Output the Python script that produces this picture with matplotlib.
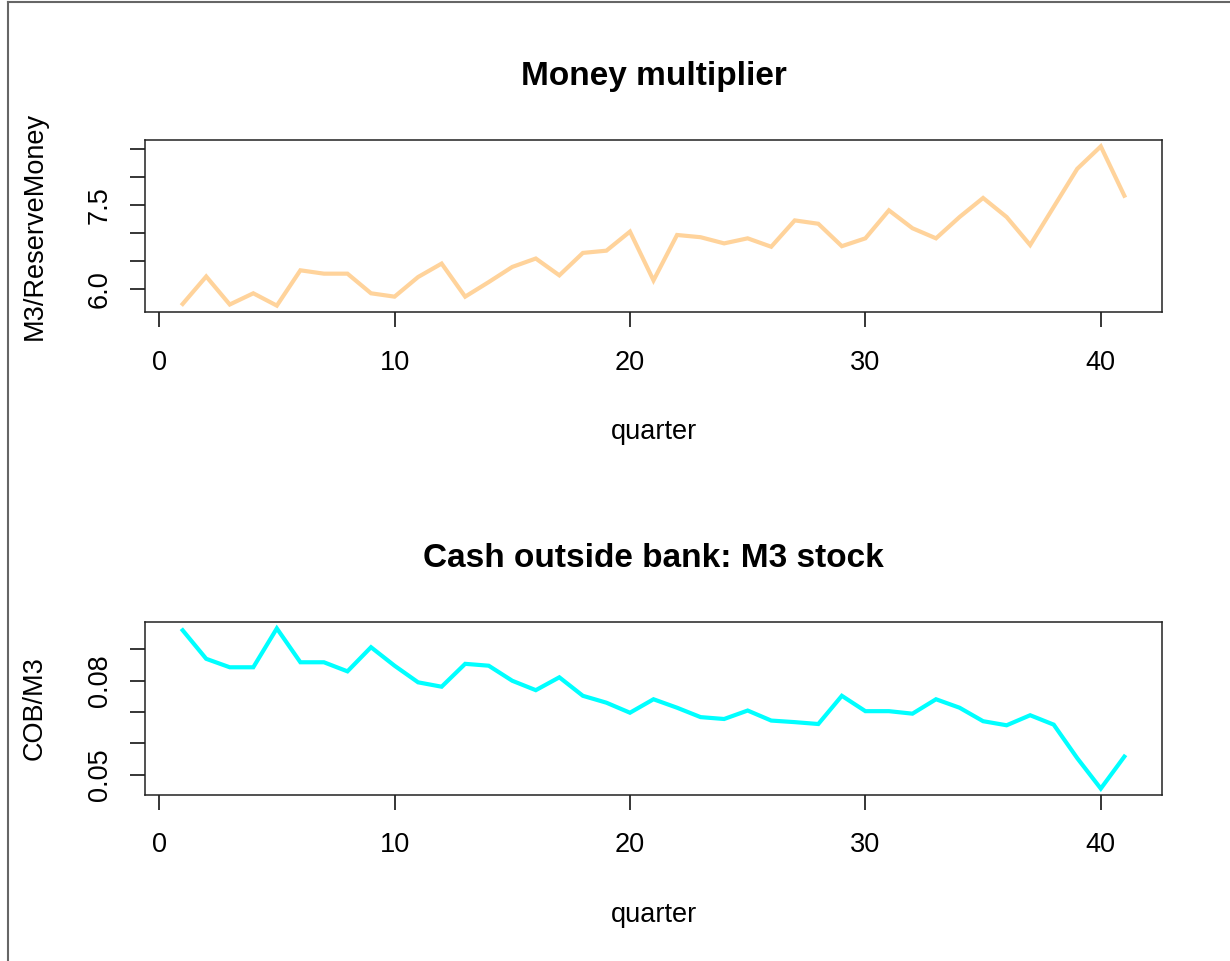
import matplotlib
matplotlib.use('Agg')
import matplotlib.pyplot as plt
from matplotlib.lines import Line2D

plt.rcParams['font.family'] = ['Liberation Sans', 'DejaVu Sans']

# quarters 1..41
quarter = list(range(1, 42))

# money multiplier (M3 / reserve money)
multiplier = [5.73, 6.22, 5.72, 5.92, 5.70, 6.33, 6.27, 6.27, 5.92, 5.86,
              6.21, 6.45, 5.86, 6.12, 6.39, 6.54, 6.24, 6.64, 6.68, 7.02,
              6.15, 6.96, 6.92, 6.81, 6.90, 6.75, 7.22, 7.16, 6.76, 6.90,
              7.40, 7.08, 6.90, 7.28, 7.62, 7.28, 6.78, 7.46, 8.14, 8.54,
              7.66]

# cash outside banks / M3
cob_ratio = [0.0961, 0.0870, 0.0843, 0.0843, 0.0967, 0.0859, 0.0859, 0.0830,
             0.0907, 0.0848, 0.0795, 0.0781, 0.0854, 0.0848, 0.0800, 0.0770,
             0.0811, 0.0752, 0.0730, 0.0698, 0.0741, 0.0714, 0.0684, 0.0678,
             0.0705, 0.0673, 0.0668, 0.0662, 0.0752, 0.0703, 0.0703, 0.0695,
             0.0741, 0.0714, 0.0671, 0.0658, 0.0690, 0.0660, 0.0553, 0.0456,
             0.0558]

x_ticks = [0, 10, 20, 30, 40]
top_yticks = [6.0, 6.5, 7.0, 7.5, 8.0, 8.5]
top_ylabels = ['6.0', '', '', '7.5', '', '']
bot_yticks = [0.05, 0.06, 0.07, 0.08, 0.09]
bot_ylabels = ['0.05', '', '', '0.08', '']

W, H = 1230, 961
fig = plt.figure(figsize=(W / 100, H / 100), dpi=100)


def px(x, y):
    # pixel position (from top-left) -> figure fraction
    return x / W, 1 - y / H


def panel(top, bottom, xs, ys, color, yticks, ylabels, title, ylabel):
    left, right = 145, 1162
    ax = fig.add_axes([left / W, 1 - bottom / H, (right - left) / W, (bottom - top) / H])
    ax.plot(xs, ys, color=color, lw=3.0, solid_joinstyle='miter')
    ax.set_xlim(-0.6, 42.6)
    pad = (max(ys) - min(ys)) * 0.04
    ax.set_ylim(min(ys) - pad, max(ys) + pad)
    ax.set_xticks(x_ticks)
    ax.set_yticks(yticks)
    ax.set_yticklabels(ylabels, rotation=90, va='center')
    ax.tick_params(axis='both', direction='out', length=11, width=1.1,
                   labelsize=19.5, colors='black')
    ax.tick_params(axis='x', pad=16)
    ax.tick_params(axis='y', pad=12)
    for s in ax.spines.values():
        s.set_linewidth(1.1)
        s.set_color('#222222')

    cx = (left + right) / 2
    fig.text(*px(cx, top - 55), title, ha='center', va='baseline',
             fontsize=24, fontweight='bold')
    fig.text(*px(cx, bottom + 127), 'quarter', ha='center', va='baseline',
             fontsize=19.5)
    fig.text(*px(42, (top + bottom) / 2), ylabel, ha='center', va='baseline',
             rotation=90, rotation_mode='anchor', fontsize=19.5)
    return ax


panel(140, 312, quarter, multiplier, '#FFD39B', top_yticks, top_ylabels,
      'Money multiplier', 'M3/ReserveMoney')
panel(622, 795, quarter, cob_ratio, '#00FFFF', bot_yticks, bot_ylabels,
      'Cash outside bank: M3 stock', 'COB/M3')

# thin window frame on the left and top edges
fig.add_artist(Line2D([7.5 / W, 7.5 / W], [0, 1 - 2 / H], color='#666666', lw=1.5))
fig.add_artist(Line2D([7.5 / W, 1], [1 - 2 / H, 1 - 2 / H], color='#666666', lw=1.5))

fig.savefig('out.png', dpi=100)
